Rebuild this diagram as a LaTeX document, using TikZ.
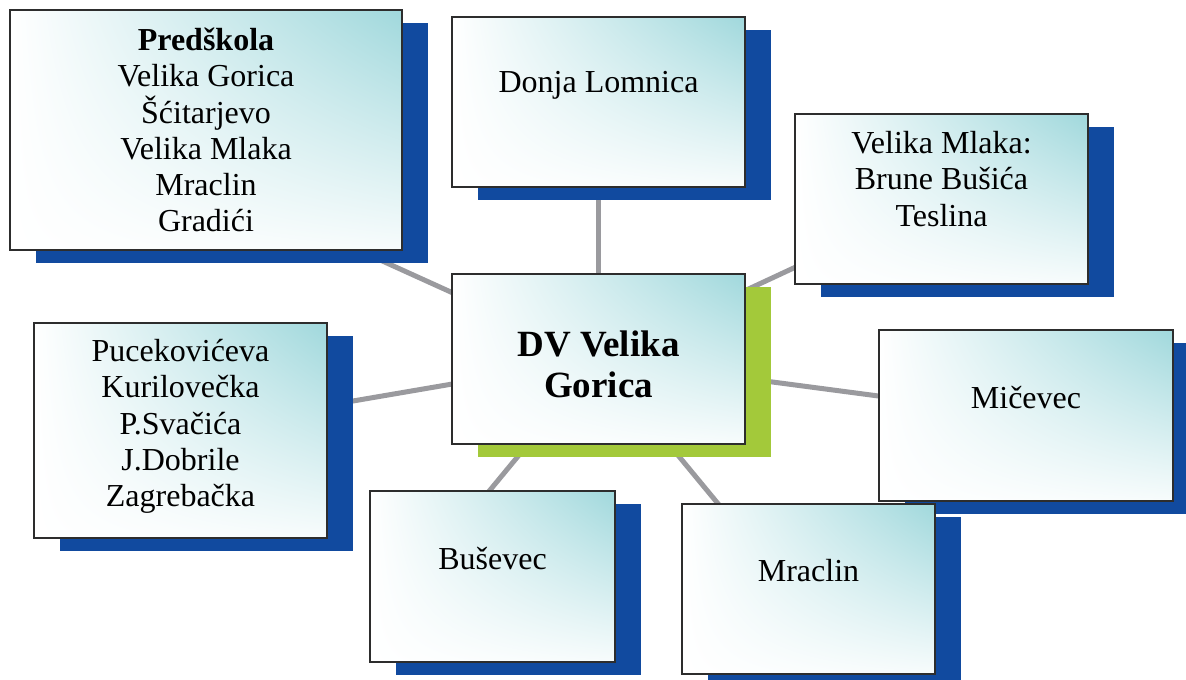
\documentclass[tikz,border=0pt]{standalone}
\usepackage{fontspec}
\setmainfont{Liberation Serif}
\usetikzlibrary{positioning, shadows, shadings, backgrounds}
\definecolor{shadowblue}{RGB}{17,74,159}
\definecolor{shadowgreen}{RGB}{163,201,58}
\definecolor{boxteal}{RGB}{160,216,220}
\definecolor{linkgray}{RGB}{154,154,158}
\definecolor{edgegray}{RGB}{45,45,45}

\begin{document}
\begin{tikzpicture}[x=0.5pt, y=-0.5pt,
	panel/.style={draw=edgegray, line width=1pt, rectangle, inner sep=0pt, upper left=white, upper right=boxteal, lower left=white, lower right=white!92!boxteal},
	box/.style={panel, drop shadow={shadow xshift=13pt, shadow yshift=-6.5pt, fill=shadowblue, opacity=1}},
	hub/.style={panel, drop shadow={shadow xshift=13pt, shadow yshift=-6.5pt, fill=shadowgreen, opacity=1}},
	txt/.style={align=center, font=\fontsize{16pt}{18.1pt}\selectfont},
	title/.style={align=center, font=\fontsize{18.5pt}{20.5pt}\selectfont\bfseries},
	link/.style={linkgray, line width=2.5pt}]
	
	\useasboundingbox (0,0) rectangle (1186,679);
	
	% Boxes
	\node [box, minimum width=196pt, minimum height=120pt, label={[txt]center:{\textbf{Predškola}\\Velika Gorica\\Šćitarjevo\\Velika Mlaka\\Mraclin\\Gradići}}] (pre) at (206,130) {};
	\node [box, minimum width=146.5pt, minimum height=85pt, label={[txt, yshift=8.5pt]center:{Donja Lomnica}}] (lom) at (598.5,102) {};
	\node [box, minimum width=146.5pt, minimum height=85pt, label={[txt, yshift=10pt]center:{Velika Mlaka:\\Brune Bušića\\Teslina}}] (vml) at (941.5,199) {};
	\node [hub, minimum width=146.5pt, minimum height=85pt, label={[title, yshift=-2.5pt]center:{DV Velika\\Gorica}}] (dv) at (598.5,359) {};
	\node [box, minimum width=146.5pt, minimum height=107.5pt, label={[txt, yshift=2pt]center:{Pucekovićeva\\Kurilovečka\\P.Svačića\\J.Dobrile\\Zagrebačka}}] (puc) at (180.5,430.5) {};
	\node [box, minimum width=147pt, minimum height=85.5pt, label={[txt, yshift=9pt]center:{Mičevec}}] (mic) at (1026,415.5) {};
	\node [box, minimum width=122.5pt, minimum height=85.5pt, label={[txt, yshift=9pt]center:{Buševec}}] (bus) at (492.5,576.5) {};
	\node [box, minimum width=126.5pt, minimum height=85pt, label={[txt, yshift=9pt]center:{Mraclin}}] (mra) at (808.5,589) {};
	
	% Connectors
	\begin{scope}[on background layer]
		\draw [link] (dv.center) -- ([yshift=-25.5pt]pre.center);
		\draw [link] (dv.center) -- (lom.center);
		\draw [link] (dv.center) -- (vml.center);
		\draw [link] (dv.center) -- (puc.center);
		\draw [link] (dv.center) -- (mic.center);
		\draw [link] (dv.center) -- ([xshift=-37pt]bus.center);
		\draw [link] (dv.center) -- ([xshift=-10pt]mra.center);
	\end{scope}
	
\end{tikzpicture}
\end{document}
